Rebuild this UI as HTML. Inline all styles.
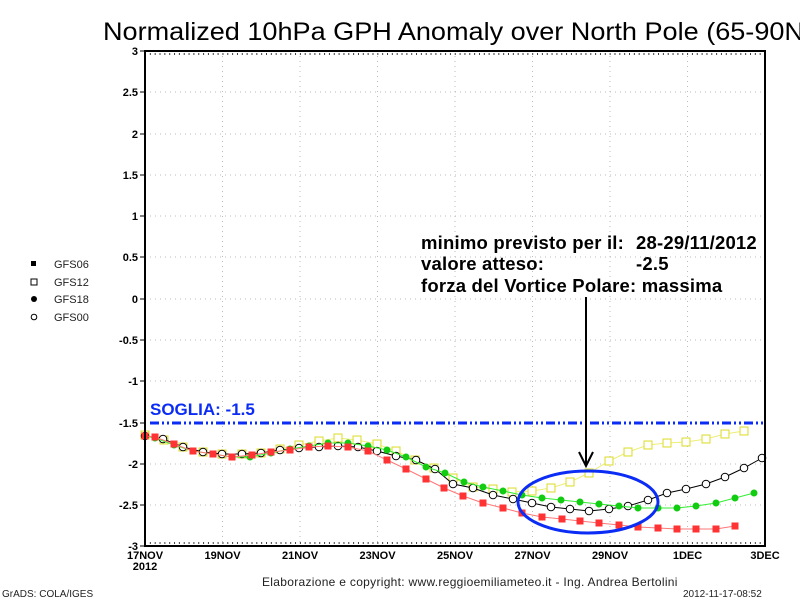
<!DOCTYPE html>
<html><head><meta charset="utf-8"><style>
body{margin:0;background:#fff}
svg{display:block}
</style></head><body>
<svg width="800" height="600" xmlns="http://www.w3.org/2000/svg" font-family="Liberation Sans, sans-serif">
<defs>
<marker id="mr" viewBox="0 0 10 10" refX="5" refY="5" markerWidth="7" markerHeight="7" markerUnits="userSpaceOnUse"><rect x="0" y="0" width="10" height="10" fill="#f33"/></marker>
<marker id="my" viewBox="0 0 10 10" refX="5" refY="5" markerWidth="9" markerHeight="9" markerUnits="userSpaceOnUse"><rect x="0.6" y="0.6" width="8.8" height="8.8" fill="#fff" stroke="#dddd33" stroke-width="1.2"/></marker>
<marker id="mg" viewBox="0 0 10 10" refX="5" refY="5" markerWidth="7" markerHeight="7" markerUnits="userSpaceOnUse"><circle cx="5" cy="5" r="5" fill="#1c1"/></marker>
<marker id="mk" viewBox="0 0 10 10" refX="5" refY="5" markerWidth="9" markerHeight="9" markerUnits="userSpaceOnUse"><circle cx="5" cy="5" r="4.2" fill="#fff" stroke="#000" stroke-width="1.1"/></marker>
</defs>
<text x="103" y="40" font-size="23" fill="#000" textLength="710" lengthAdjust="spacingAndGlyphs" transform="translate(0,-4) scale(1,1.1)" style="font-weight:300">Normalized 10hPa GPH Anomaly over North Pole (65-90N)</text>
<!-- grid -->
<g stroke="#bbb" stroke-width="1" stroke-dasharray="1,4">
<line x1="145" x2="765" y1="92" y2="92"/><line x1="145" x2="765" y1="134" y2="134"/><line x1="145" x2="765" y1="175" y2="175"/><line x1="145" x2="765" y1="216" y2="216"/><line x1="145" x2="765" y1="257" y2="257"/><line x1="145" x2="765" y1="299" y2="299"/><line x1="145" x2="765" y1="340" y2="340"/><line x1="145" x2="765" y1="381" y2="381"/><line x1="145" x2="765" y1="464" y2="464"/><line x1="145" x2="765" y1="505" y2="505"/>
<line y1="51" y2="546" x1="222.5" x2="222.5"/><line y1="51" y2="546" x1="300" x2="300"/><line y1="51" y2="546" x1="377.5" x2="377.5"/><line y1="51" y2="546" x1="455" x2="455"/><line y1="51" y2="546" x1="532.5" x2="532.5"/><line y1="51" y2="546" x1="610" x2="610"/><line y1="51" y2="546" x1="687.5" x2="687.5"/>
</g>
<!-- threshold -->
<line x1="150" x2="765" y1="423" y2="423" stroke="#0a2cf5" stroke-width="3" stroke-dasharray="9,3,2,3,2,3"/>
<text x="150" y="415" font-size="17" font-weight="bold" fill="#0a2cf5">SOGLIA: -1.5</text>
<!-- series -->
<polyline fill="none" stroke="#eeee77" stroke-width="1" marker-start="url(#my)" marker-mid="url(#my)" marker-end="url(#my)" points="145,435 164,440 183,447 203,452 222,454 242,454 261,453 280,449 299,445 319,441 338,438 357,440 377,444 396,451 415,460 434,468 453,478 473,487 493,489 512,492 532,491 551,488 570,482 589,473 609,461 628,452 648,445 667,443 686,442 706,439 725,434 744,431"/>
<polyline fill="none" stroke="#000" stroke-width="1" marker-start="url(#mk)" marker-mid="url(#mk)" marker-end="url(#mk)" points="145,436 163,439 183,447 203,452 222,454 242,454 261,453 280,450 299,448 319,447 338,446 358,447 377,451 396,456 416,460 435,469 453,484 473,488 493,495 513,499 532,503 551,507 570,509 589,511 609,509 628,506 648,500 667,493 686,489 706,484 725,477 744,468 762,458"/>
<polyline fill="none" stroke="#33ee33" stroke-width="1" marker-start="url(#mg)" marker-mid="url(#mg)" marker-end="url(#mg)" points="145,436 155,438 174,445 193,451 213,454 232,457 250,457 271,453 290,449 309,446 328,443 348,443 368,446 387,450 406,457 426,467 445,473 464,482 483,487 503,491 522,495 542,498 561,500 580,502 599,504 619,506 638,508 658,508 677,508 696,506 716,503 735,498 754,493"/>
<polyline fill="none" stroke="#ff7777" stroke-width="1" marker-start="url(#mr)" marker-mid="url(#mr)" marker-end="url(#mr)" points="145,436 155,437 174,444 193,451 213,454 232,457 252,455 271,452 290,450 309,447 328,446 348,447 368,451 387,460 406,469 426,479 444,488 463,496 483,503 503,508 522,513 542,517 562,519 580,521 599,523 619,525 638,527 658,528 677,529 696,529 716,529 735,526"/>
<!-- frame -->
<rect x="145" y="51" width="620" height="495" fill="none" stroke="#000" stroke-width="2"/>
<g stroke="#000" stroke-width="1">
<line x1="140" x2="145" y1="51" y2="51"/><line x1="140" x2="145" y1="92" y2="92"/><line x1="140" x2="145" y1="134" y2="134"/><line x1="140" x2="145" y1="175" y2="175"/><line x1="140" x2="145" y1="216" y2="216"/><line x1="140" x2="145" y1="257" y2="257"/><line x1="140" x2="145" y1="299" y2="299"/><line x1="140" x2="145" y1="340" y2="340"/><line x1="140" x2="145" y1="381" y2="381"/><line x1="140" x2="145" y1="423" y2="423"/><line x1="140" x2="145" y1="464" y2="464"/><line x1="140" x2="145" y1="505" y2="505"/><line x1="140" x2="145" y1="546" y2="546"/>
</g>
<g stroke="#000" stroke-width="1.5" stroke-dasharray="1,3.84">
<line x1="145" x2="765" y1="543" y2="543"/>
<line x1="145" x2="765" y1="54" y2="54"/>
</g>
<g font-size="11" font-weight="bold" text-anchor="end">
<text x="138" y="55">3</text><text x="138" y="96">2.5</text><text x="138" y="138">2</text><text x="138" y="179">1.5</text><text x="138" y="220">1</text><text x="138" y="261">0.5</text><text x="138" y="303">0</text><text x="138" y="344">-0.5</text><text x="138" y="385">-1</text><text x="138" y="427">-1.5</text><text x="138" y="468">-2</text><text x="138" y="509">-2.5</text><text x="138" y="550">-3</text>
</g>
<g font-size="11" font-weight="bold" text-anchor="middle">
<text x="145" y="559">17NOV</text><text x="145" y="570">2012</text>
<text x="222.5" y="559">19NOV</text><text x="300" y="559">21NOV</text><text x="377.5" y="559">23NOV</text><text x="455" y="559">25NOV</text><text x="532.5" y="559">27NOV</text><text x="610" y="559">29NOV</text><text x="687.5" y="559">1DEC</text><text x="765" y="559">3DEC</text>
</g>
<!-- legend -->
<rect x="31" y="261" width="5" height="5" fill="#000"/>
<rect x="31" y="279" width="6" height="6" fill="none" stroke="#000" stroke-width="1"/>
<circle cx="34" cy="299" r="3" fill="#000"/>
<circle cx="34" cy="317" r="2.8" fill="none" stroke="#000" stroke-width="1"/>
<g font-size="11" fill="#222">
<text x="54" y="268">GFS06</text><text x="54" y="286">GFS12</text><text x="54" y="303">GFS18</text><text x="54" y="321">GFS00</text>
</g>
<!-- annotation -->
<g font-size="18.5" font-weight="bold" letter-spacing="0.2">
<text x="421" y="249">minimo previsto per il:</text><text x="636" y="249">28-29/11/2012</text>
<text x="421" y="270">valore atteso:</text><text x="636" y="270">-2.5</text>
<text x="421" y="292">forza del Vortice Polare: massima</text>
</g>
<line x1="586" y1="297" x2="586" y2="464" stroke="#000" stroke-width="2"/>
<polyline points="579,452 586,466 593,452" fill="none" stroke="#000" stroke-width="2"/>
<ellipse cx="588" cy="502" rx="70" ry="31" fill="none" stroke="#0a2cf5" stroke-width="3"/>
<text x="262" y="586" font-size="12" fill="#222" letter-spacing="0.3">Elaborazione e copyright: www.reggioemiliameteo.it - Ing. Andrea Bertolini</text>
<text x="2" y="597" font-size="10" fill="#222">GrADS: COLA/IGES</text>
<text x="683" y="597" font-size="10" fill="#222">2012-11-17-08:52</text>
</svg>
</body></html>
